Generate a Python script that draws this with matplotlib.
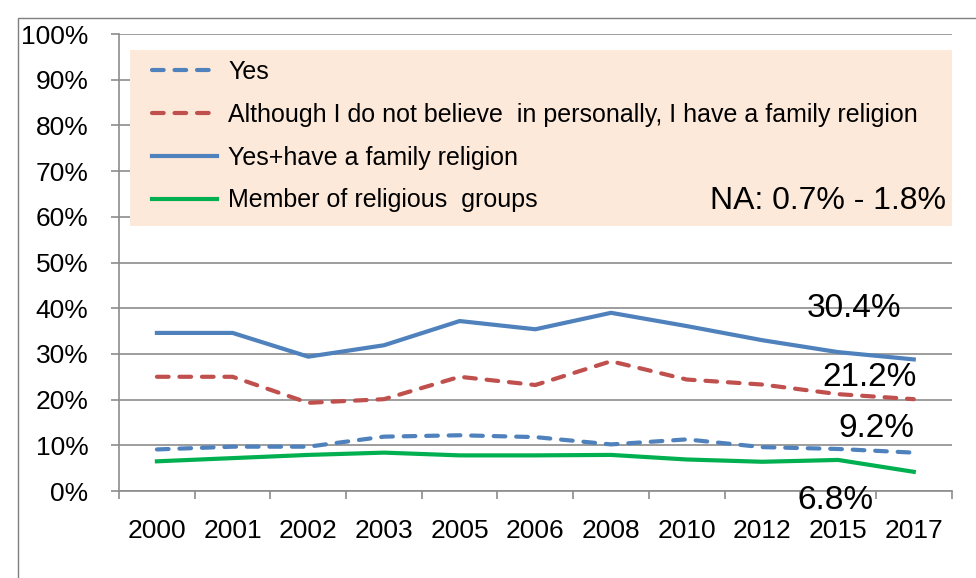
import matplotlib
matplotlib.use("Agg")
import matplotlib.pyplot as plt
from matplotlib.patches import Rectangle

plt.rcParams['font.family'] = ['Liberation Sans', 'DejaVu Sans']

years = ['2000', '2001', '2002', '2003', '2005', '2006', '2008', '2010', '2012', '2015', '2017']
yes = [9.1, 9.7, 9.7, 11.9, 12.2, 11.8, 10.2, 11.3, 9.6, 9.2, 8.4]
family_only = [25.0, 25.0, 19.3, 20.1, 25.0, 23.2, 28.4, 24.4, 23.3, 21.2, 20.1]
yes_family = [34.6, 34.6, 29.4, 31.9, 37.2, 35.4, 39.0, 36.1, 33.0, 30.4, 28.8]
member = [6.5, 7.2, 7.9, 8.4, 7.8, 7.8, 7.9, 6.9, 6.4, 6.8, 4.2]

labels = ['Yes',
          'Although I do not believe  in personally, I have a family religion',
          'Yes+have a family religion',
          'Member of religious  groups']

fig = plt.figure(figsize=(9.76, 5.78), dpi=100)
ax = fig.add_axes([0.122, 0.1505, 0.853, 0.7905])

# outer chart border
fig.patches.append(Rectangle((0.018, -0.01), 1.1, 0.979, transform=fig.transFigure,
                             fill=False, edgecolor='#7f7f7f', linewidth=1.0))

x = list(range(len(years)))
dash = (0, (2.8, 2.6))
ax.plot(x, yes, color='#4f81bd', lw=3, ls=dash, dash_capstyle='round', label=labels[0])
ax.plot(x, family_only, color='#c0504d', lw=3, ls=dash, dash_capstyle='round', label=labels[1])
ax.plot(x, yes_family, color='#4f81bd', lw=3, label=labels[2])
ax.plot(x, member, color='#00b050', lw=3, label=labels[3])

ax.set_xlim(-0.5, len(years) - 0.5)
ax.set_ylim(0, 100)
ax.set_yticks(range(0, 101, 10))
ax.set_yticklabels([f'{v}%' for v in range(0, 101, 10)], fontsize=19)
ax.set_xticks(x)
ax.set_xticklabels(years, fontsize=19)
ax.set_xticks([i - 0.5 for i in range(len(years) + 1)], minor=True)
ax.tick_params(axis='x', which='major', length=0, pad=20)
ax.tick_params(axis='x', which='minor', length=6, color='#8c8c8c', width=1.2)
ax.tick_params(axis='y', length=6, color='#8c8c8c', width=1.2, pad=16)
ax.grid(axis='y', color='#8c8c8c', lw=1.2)
ax.set_axisbelow(True)
for s in ['top', 'right']:
    ax.spines[s].set_visible(False)
for s in ['left', 'bottom']:
    ax.spines[s].set_color('#8c8c8c')
    ax.spines[s].set_linewidth(1.2)

# legend background box
ax.add_patch(Rectangle((-0.36, 58.0), 10.86, 38.5, facecolor='#fde9d9', edgecolor='none', zorder=2))
leg = ax.legend(loc='upper left', bbox_to_anchor=(0.1557, 0.896), bbox_transform=fig.transFigure,
                frameon=False, fontsize=18, handlelength=2.6, handletextpad=0.45,
                labelspacing=0.75, borderaxespad=0, borderpad=0)
leg.set_zorder(3)

ax.text(10.42, 63.4, 'NA: 0.7% - 1.8%', fontsize=23, ha='right', va='center', zorder=4)

# end labels
ax.text(9.21, 40.0, f'{yes_family[9]}%', fontsize=24, ha='center', va='center')
ax.text(9.41, 24.9, f'{family_only[9]}%', fontsize=24, ha='center', va='center')
ax.text(9.51, 13.6, f'{yes[9]}%', fontsize=24, ha='center', va='center')
ax.text(8.96, -2.0, f'{member[9]}%', fontsize=24, ha='center', va='center')

fig.savefig('out.png', dpi=100)
